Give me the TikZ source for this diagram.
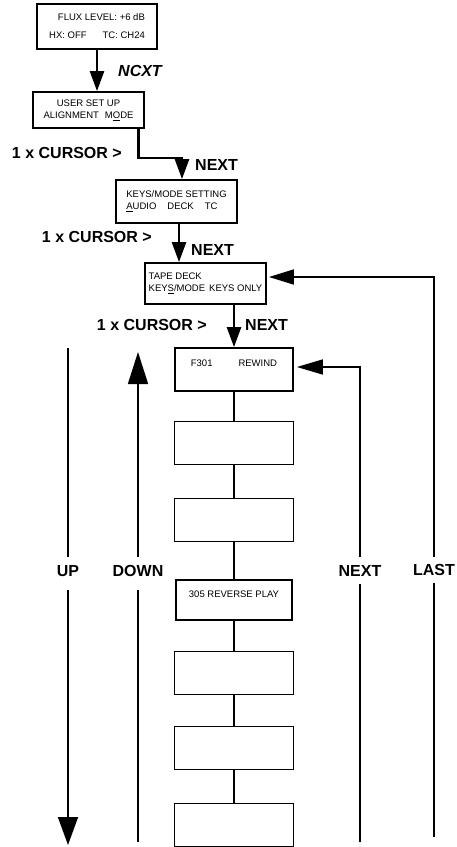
\documentclass[tikz,border=0pt]{standalone}
\usepackage{fontspec}
\setmainfont{Liberation Sans}
\usetikzlibrary{arrows.meta,positioning,calc}

\tikzset{
  dispbox/.style  ={draw=black,line width=1.8pt,inner sep=2pt,align=left,
                    font=\fontsize{9.5}{12}\selectfont},
  stepbox/.style  ={dispbox,minimum width=118pt,minimum height=42pt},
  blankbox/.style ={draw=black,line width=0.9pt,minimum width=119pt,minimum height=43pt},
  flow/.style     ={-{Triangle[length=20pt,width=14pt]},line width=2.5pt},
  side/.style     ={line width=1.6pt},
  link/.style     ={line width=2pt},
  keylbl/.style   ={font=\fontsize{16}{19}\selectfont\bfseries,inner sep=0pt},
}

\begin{document}
\begin{tikzpicture}[x=1pt,y=-1pt]
\useasboundingbox (0,0) rectangle (457,847);

% display screens
\node[dispbox,align=right,minimum width=120pt,minimum height=45pt] (flux) at (97,26.5)
  {FLUX LEVEL: +6 dB\\[6pt] HX: OFF\hspace{16pt}TC: CH24};
\node[dispbox,align=center,minimum width=111pt,minimum height=36pt] (user) at (88.5,110)
  {USER SET UP\\ ALIGNMENT\hspace{6pt}M\underline{O}DE};
\node[dispbox,minimum width=121pt,minimum height=43pt] (keys) at (176.5,201.5)
  {KEYS/MODE SETTING\\ \underline{A}UDIO\hspace{11pt}DECK\hspace{11pt}TC};
\node[dispbox,minimum width=121pt,minimum height=41pt] (tape) at (205.5,283.5)
  {TAPE DECK\\ KEY\underline{S}/MODE\hspace{4pt}KEYS ONLY};

% function list
\node[stepbox,minimum height=43pt] (f301) at (234,369.5) {F301\hspace{26pt}REWIND\\ \mbox{}};
\node[stepbox,minimum width=116pt,minimum height=40pt] (rev) at (234,600) {305 REVERSE PLAY\\ \mbox{}};
\foreach \n/\y in {eA/443,eB/520,eC/673,eD/747.5,eE/825}
  \node[blankbox] (\n) at (234,\y) {};
\foreach \a/\b in {f301/eA,eA/eB,eB/rev,rev/eC,eC/eD,eD/eE}
  \draw[link] (\a) -- (\b);

% key presses
\node[keylbl,font=\fontsize{16}{19}\selectfont\bfseries\itshape,anchor=west] (nxtA) at (118,71) {NCXT};
\node[keylbl,anchor=east] (curA) at (122,153) {1 x CURSOR >};
\node[keylbl,anchor=west] (nxtB) at (195,165) {NEXT};
\node[keylbl,anchor=east] (curB) at (152,237) {1 x CURSOR >};
\node[keylbl,anchor=west] (nxtC) at (191,250) {NEXT};
\node[keylbl,anchor=east] (curC) at (207,325) {1 x CURSOR >};
\node[keylbl,anchor=west] (nxtD) at (245,325) {NEXT};

\draw[flow] (flux.south) -- (flux.south |- user.north);
\draw[flow] ([xshift=50pt]user.south) -- ++(0,29) -| ([xshift=5.5pt]keys.north);
\draw[flow] ([xshift=2.5pt]keys.south) -- ([xshift=2.5pt]keys.south |- tape.north);
\draw[flow] ([xshift=28.5pt]tape.south) -- (f301.north);

% scroll keys
\node[keylbl] (upL) at (68,571) {UP};
\node[keylbl] (downL) at (138,571) {DOWN};
\node[keylbl] (nextL) at (360,571) {NEXT};
\node[keylbl] (lastL) at (434,570) {LAST};
\coordinate (upTop) at (68,348);
\coordinate (upEnd) at (68,845);
\coordinate (downTip) at (138,352);
\coordinate (downEnd) at (138,842);
\coordinate (nextEnd) at (360,842);
\coordinate (lastEnd) at (434,837);

\draw[side] (upTop) -- ([yshift=8pt]upL.north);
\draw[side,-{Triangle[length=28pt,width=20pt]}] ([yshift=-13pt]upL.south) -- (upEnd);
\draw[side,-{Triangle[length=32pt,width=20pt]}] ([yshift=8pt]downL.north) -- (downTip);
\draw[side] ([yshift=-13pt]downL.south) -- (downEnd);
\draw[side,-{Triangle[length=26pt,width=15pt]},shorten >=3pt]
  ([yshift=8pt]nextL.north) |- ([yshift=2.5pt]f301.east);
\draw[side] ([yshift=-7pt]nextL.south) -- (nextEnd);
\draw[side,-{Triangle[length=25pt,width=15pt]},shorten >=2pt]
  ([yshift=7pt]lastL.north) |- ([yshift=6.5pt]tape.east);
\draw[side] ([yshift=-7pt]lastL.south) -- (lastEnd);
\end{tikzpicture}
\end{document}
